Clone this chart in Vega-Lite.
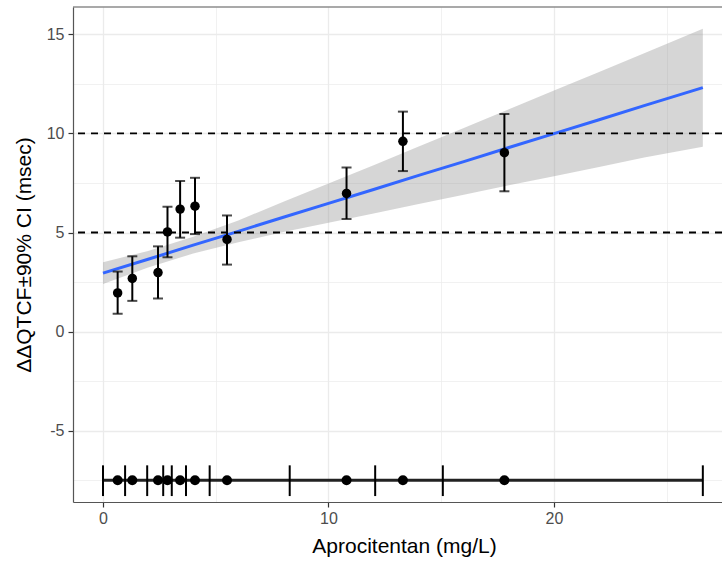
{
  "$schema": "https://vega.github.io/schema/vega-lite/v6.json",
  "autosize": "none",
  "width": 649,
  "height": 495,
  "padding": {"left": 73, "top": 7, "right": 0, "bottom": 60},
  "background": "white",
  "view": {"stroke": null},
  "config": {
    "font": "Liberation Sans",
    "axis": {
      "labelFont": "Liberation Sans",
      "titleFont": "Liberation Sans",
      "labelFontSize": 16,
      "titleFontSize": 21,
      "titleFontWeight": "normal",
      "labelColor": "#4D4D4D",
      "titleColor": "#000000",
      "domainColor": "#555555",
      "domainWidth": 1.2,
      "tickColor": "#333333",
      "tickWidth": 1.2,
      "tickSize": 5,
      "gridColor": "#EBEBEB"
    }
  },
  "datasets": {
    "obs": [
      {"conc": 0.65, "dqtc": 1.95, "lo": 0.9, "hi": 3.03},
      {"conc": 1.3, "dqtc": 2.68, "lo": 1.55, "hi": 3.8},
      {"conc": 2.44, "dqtc": 2.98, "lo": 1.67, "hi": 4.3},
      {"conc": 2.86, "dqtc": 5.03, "lo": 3.75, "hi": 6.3},
      {"conc": 3.42, "dqtc": 6.18, "lo": 4.74, "hi": 7.6},
      {"conc": 4.08, "dqtc": 6.33, "lo": 4.92, "hi": 7.76},
      {"conc": 5.5, "dqtc": 4.65, "lo": 3.38, "hi": 5.86},
      {"conc": 10.8, "dqtc": 6.97, "lo": 5.68, "hi": 8.28},
      {"conc": 13.3, "dqtc": 9.6, "lo": 8.1, "hi": 11.1},
      {"conc": 17.8, "dqtc": 9.03, "lo": 7.08, "hi": 10.98}
    ],
    "band": [
      {"conc": 0, "fit": 2.95, "lower": 2.4, "upper": 3.5},
      {"conc": 2, "fit": 3.65, "lower": 3.23, "upper": 4.07},
      {"conc": 4, "fit": 4.36, "lower": 3.94, "upper": 4.78},
      {"conc": 6, "fit": 5.06, "lower": 4.51, "upper": 5.61},
      {"conc": 8, "fit": 5.77, "lower": 5.03, "upper": 6.55},
      {"conc": 10, "fit": 6.47, "lower": 5.49, "upper": 7.47},
      {"conc": 12, "fit": 7.17, "lower": 5.96, "upper": 8.4},
      {"conc": 14, "fit": 7.88, "lower": 6.44, "upper": 9.34},
      {"conc": 16, "fit": 8.58, "lower": 6.91, "upper": 10.27},
      {"conc": 18, "fit": 9.29, "lower": 7.38, "upper": 11.22},
      {"conc": 20, "fit": 9.99, "lower": 7.84, "upper": 12.16},
      {"conc": 22, "fit": 10.69, "lower": 8.3, "upper": 13.1},
      {"conc": 24, "fit": 11.4, "lower": 8.78, "upper": 14.04},
      {"conc": 26.6, "fit": 12.31, "lower": 9.33, "upper": 15.28}
    ],
    "bins": [
      {"conc": 0}, {"conc": 0.98}, {"conc": 1.96}, {"conc": 2.67}, {"conc": 3.05},
      {"conc": 3.68}, {"conc": 4.73}, {"conc": 8.28}, {"conc": 12.07}, {"conc": 15.07}, {"conc": 26.6}
    ],
    "refs": [{"ref": 5}, {"ref": 10}]
  },
  "encoding": {
    "x": {
      "field": "conc",
      "type": "quantitative",
      "title": "Aprocitentan (mg/L)",
      "scale": {"domain": [-1.33, 27.45], "nice": false, "zero": false},
      "axis": {
        "values": [0, 5, 10, 15, 20, 25],
        "labelExpr": "datum.value % 10 === 0 ? '' + datum.value : ''",
        "tickOpacity": {"condition": {"test": "datum.value % 10 !== 0", "value": 0}, "value": 1},
        "gridWidth": {"condition": {"test": "datum.value % 10 !== 0", "value": 0.7}, "value": 1.3},
        "labelPadding": 3,
        "titlePadding": 9,
        "titleX": 331
      }
    }
  },
  "layer": [
    {
      "data": {"name": "band"},
      "mark": {"type": "area", "color": "#999999", "opacity": 0.4},
      "encoding": {
        "y": {
          "field": "lower",
          "type": "quantitative",
          "title": "ΔΔQTCF±90% CI (msec)",
          "scale": {"domain": [-8.6, 16.38], "nice": false, "zero": false},
          "axis": {
            "values": [-7.5, -5, -2.5, 0, 2.5, 5, 7.5, 10, 12.5, 15],
            "labelExpr": "datum.value % 5 === 0 ? '' + datum.value : ''",
            "tickOpacity": {"condition": {"test": "datum.value % 5 !== 0", "value": 0}, "value": 1},
            "gridWidth": {"condition": {"test": "datum.value % 5 !== 0", "value": 0.7}, "value": 1.3},
            "labelPadding": 4,
            "titlePadding": 12
          }
        },
        "y2": {"field": "upper"}
      }
    },
    {
      "data": {"name": "band"},
      "mark": {"type": "line", "color": "#3366FF", "strokeWidth": 3},
      "encoding": {"y": {"field": "fit", "type": "quantitative", "title": "ΔΔQTCF±90% CI (msec)"}}
    },
    {
      "data": {"name": "refs"},
      "mark": {"type": "rule", "color": "#000000", "strokeWidth": 1.8, "strokeDash": [7, 6]},
      "encoding": {"x": null, "y": {"field": "ref", "type": "quantitative", "title": "ΔΔQTCF±90% CI (msec)"}}
    },
    {
      "data": {"name": "obs"},
      "mark": {"type": "rule", "color": "#000000", "strokeWidth": 2},
      "encoding": {
        "y": {"field": "lo", "type": "quantitative", "title": "ΔΔQTCF±90% CI (msec)"},
        "y2": {"field": "hi"}
      }
    },
    {
      "data": {"name": "obs"},
      "mark": {"type": "tick", "orient": "horizontal", "color": "#000000", "size": 10, "thickness": 2},
      "encoding": {"y": {"field": "lo", "type": "quantitative", "title": "ΔΔQTCF±90% CI (msec)"}}
    },
    {
      "data": {"name": "obs"},
      "mark": {"type": "tick", "orient": "horizontal", "color": "#000000", "size": 10, "thickness": 2},
      "encoding": {"y": {"field": "hi", "type": "quantitative", "title": "ΔΔQTCF±90% CI (msec)"}}
    },
    {
      "data": {"name": "obs"},
      "mark": {"type": "circle", "color": "#000000", "opacity": 1, "size": 90},
      "encoding": {"y": {"field": "dqtc", "type": "quantitative", "title": "ΔΔQTCF±90% CI (msec)"}}
    },
    {
      "data": {"name": "bins"},
      "mark": {"type": "rule", "color": "#222222", "strokeWidth": 3},
      "encoding": {
        "x": {"aggregate": "min", "field": "conc", "type": "quantitative", "title": "Aprocitentan (mg/L)"},
        "x2": {"aggregate": "max", "field": "conc"},
        "y": {"datum": -7.5}
      }
    },
    {
      "data": {"name": "bins"},
      "mark": {"type": "rule", "color": "#000000", "strokeWidth": 2},
      "encoding": {
        "y": {"datum": -6.75},
        "y2": {"datum": -8.3}
      }
    },
    {
      "data": {"name": "obs"},
      "mark": {"type": "circle", "color": "#000000", "opacity": 1, "size": 100},
      "encoding": {"y": {"datum": -7.5}}
    },
    {
      "data": {"values": [{"edge": -1.33}, {"edge": 27.45}]},
      "mark": {"type": "rule", "color": "#555555", "strokeWidth": 1.2},
      "encoding": {
        "x": {"aggregate": "min", "field": "edge", "type": "quantitative", "title": "Aprocitentan (mg/L)"},
        "x2": {"aggregate": "max", "field": "edge"},
        "y": {"datum": 16.38}
      }
    }
  ]
}
